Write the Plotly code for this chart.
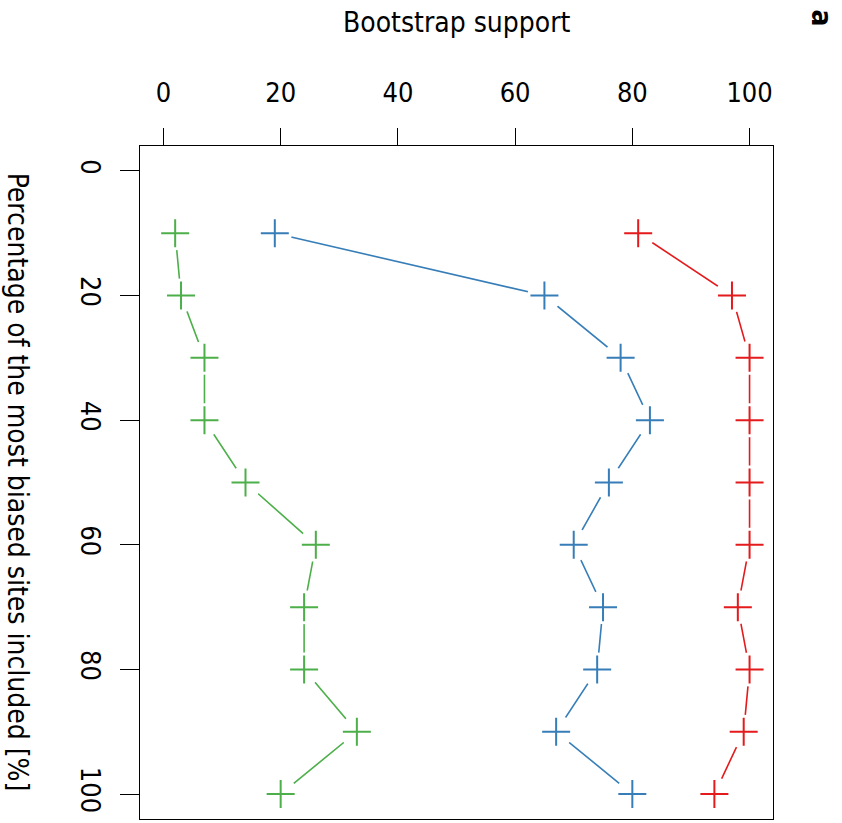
import plotly.graph_objects as go

pct_sites = [10, 20, 30, 40, 50, 60, 70, 80, 90, 100]
support_red = [81, 97, 100, 100, 100, 100, 98, 100, 99, 94]
support_blue = [19, 65, 78, 83, 76, 70, 75, 74, 67, 80]
support_green = [2, 3, 7, 7, 14, 26, 24, 24, 33, 20]
tick_vals = [0, 20, 40, 60, 80, 100]

series = [
    (support_red, "#E41A1C"),
    (support_blue, "#377EB8"),
    (support_green, "#4DAF4A"),
]

FONT = "DejaVu Sans Condensed, DejaVu Sans, sans-serif"
fig = go.Figure()
for vals, col in series:
    fig.add_trace(go.Scatter(x=vals, y=pct_sites, mode="lines",
                             line=dict(color=col, width=1.6),
                             hoverinfo="skip", showlegend=False))
for vals, col in series:
    fig.add_trace(go.Scatter(x=vals, y=pct_sites, mode="markers",
                             marker=dict(symbol="circle", size=34, color="white",
                                         opacity=1, line=dict(width=0)),
                             hoverinfo="skip", showlegend=False))
for vals, col in series:
    fig.add_trace(go.Scatter(x=vals, y=pct_sites, mode="markers",
                             marker=dict(symbol="cross-thin", size=20,
                                         line=dict(color=col, width=2)),
                             showlegend=False))

axis_common = dict(tickvals=tick_vals, ticks="outside", ticklen=17,
                   tickcolor="black", tickwidth=1, showline=True, mirror=True,
                   linecolor="black", linewidth=1.3, showgrid=False, zeroline=False,
                   tickfont=dict(family=FONT, size=27, color="black"))

fig.update_layout(
    width=842, height=823,
    margin=dict(l=140, r=69, t=146, b=4),
    plot_bgcolor="white", paper_bgcolor="white",
    xaxis=dict(axis_common, side="top", range=[-4, 104], ticklabelstandoff=15),
    yaxis=dict(axis_common, range=[104, -4], tickangle=90, ticklen=19,
               ticklabelstandoff=6),
    annotations=[
        dict(text="Bootstrap support", xref="paper", yref="paper",
             x=0.5, y=1.184, xanchor="center", yanchor="middle", showarrow=False,
             font=dict(family=FONT, size=28, color="black")),
        dict(text="Percentage of the most biased sites included [%]", xref="paper", yref="paper",
             x=-0.193, y=0.5, xanchor="center", yanchor="middle", showarrow=False,
             textangle=90, font=dict(family=FONT, size=28, color="black")),
        dict(text="<b>a</b>", xref="paper", yref="paper",
             x=1.077, y=1.19, xanchor="center", yanchor="middle", showarrow=False,
             textangle=90, font=dict(family=FONT, size=28, color="black")),
    ],
)

fig.write_html("out.html")
